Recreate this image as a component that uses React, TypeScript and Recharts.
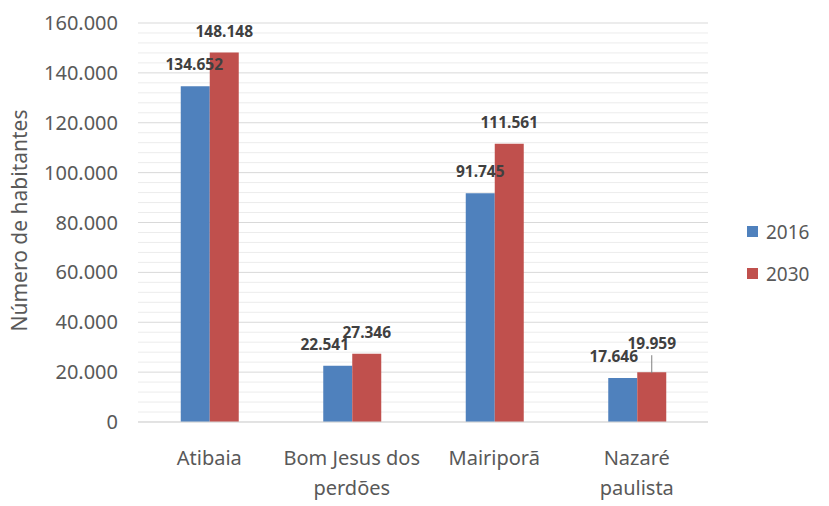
import React from "react";
import { BarChart, Bar, XAxis, YAxis, CartesianGrid, Legend } from "recharts";

const categories = ["Atibaia", "Bom Jesus dos perdões", "Mairiporã", "Nazaré paulista"];
const values2016 = [134652, 22541, 91745, 17646];
const values2030 = [148148, 27346, 111561, 19959];
const majorTicks = [0, 20000, 40000, 60000, 80000, 100000, 120000, 140000, 160000];
const minorTicks = Array.from({ length: 41 }, (_, i) => i * 4000).filter((v) => v % 20000 !== 0);

const data = categories.map((c, i) => ({ name: c, y2016: values2016[i], y2030: values2030[i] }));

const BLUE = "#4F81BD";
const RED = "#C0504D";
const FONT = "'Noto Sans', sans-serif";

const fmt = (v: number) => {
  const s = String(Math.round(v));
  return s.replace(/\B(?=(\d{3})+(?!\d))/g, ".");
};

// small label nudges (style only)
const nudge2016 = [-1, -13, 0, -9];
const nudge2030 = [0, 0, 0, 0];
const lift2030 = [0, 0, 0, 7];

const makeLabel = (nudge: number[], lift: number[] | null) => (props: any) => {
  const { x, y, width, value, index } = props;
  const cx = Number(x) + Number(width) / 2 + (nudge[index] || 0);
  const extra = lift ? lift[index] || 0 : 0;
  const by = Number(y) - 16 - extra;
  return (
    <g>
      {extra > 0 && (
        <line x1={Number(x) + Number(width) / 2} x2={Number(x) + Number(width) / 2} y1={by + 6} y2={Number(y) + 1} stroke="#7f7f7f" strokeWidth={1} />
      )}
      <text x={cx} y={by} textAnchor="middle" fontFamily={FONT} fontSize={15.5} fontWeight={700} fill="#404040">
        {fmt(value)}
      </text>
    </g>
  );
};

const CatTick = (props: any) => {
  const { x, y, payload } = props;
  const lines: string[] = [];
  if (payload.value === "Bom Jesus dos perdões") {
    lines.push("Bom Jesus dos", "perdões");
  } else if (payload.value === "Nazaré paulista") {
    lines.push("Nazaré", "paulista");
  } else {
    lines.push(String(payload.value));
  }
  return (
    <g>
      {lines.map((l, i) => (
        <text key={i} x={x} y={y + 35 + i * 30} textAnchor="middle" fontFamily={FONT} fontSize={20} fill="#595959">
          {l}
        </text>
      ))}
    </g>
  );
};

const YTitle = (props: any) => {
  const { viewBox } = props;
  const cy = viewBox.y + viewBox.height / 2 - 2;
  const cx = 19;
  return (
    <text x={cx} y={cy} transform={`rotate(-90 ${cx} ${cy})`} textAnchor="middle" dominantBaseline="central" fontFamily={FONT} fontSize={21} fill="#595959">
      Número de habitantes
    </text>
  );
};

const LegendContent = (props: any) => {
  const items = props.payload || [];
  return (
    <svg width={80} height={80} style={{ overflow: "visible" }}>
      {items.map((it: any, i: number) => (
        <g key={i}>
          <rect x={2} y={6 + i * 42} width={11} height={11} fill={it.color} />
          <text x={21} y={11.5 + i * 42} dominantBaseline="central" fontFamily={FONT} fontSize={19} fill="#595959">
            {it.value}
          </text>
        </g>
      ))}
    </svg>
  );
};

const minorGen = (props: any) => {
  const scale = props && props.yAxis && props.yAxis.scale;
  if (typeof scale === "function") return minorTicks.map((v) => scale(v));
  if (scale && typeof scale.map === "function") return minorTicks.map((v) => scale.map(v));
  return [];
};

export default function App() {
  return (
    <div style={{ position: "absolute", left: 0, top: 0, width: 829, height: 506, background: "#fff" }}>
      <BarChart
        width={829}
        height={506}
        data={data}
        margin={{ top: 23, right: 121, bottom: 24, left: 0 }}
        barCategoryGap="30%"
        barGap={0}
      >
        <CartesianGrid horizontal vertical={false} stroke="#ececec" strokeWidth={1} horizontalCoordinatesGenerator={minorGen} />
        <CartesianGrid horizontal vertical={false} stroke="#d9d9d9" strokeWidth={1} />
        <XAxis
          dataKey="name"
          interval={0}
          tickLine={false}
          axisLine={{ stroke: "#d9d9d9" }}
          height={60}
          tick={<CatTick />}
        />
        <YAxis
          domain={[0, 160000]}
          ticks={majorTicks}
          width={138}
          axisLine={false}
          tickLine={false}
          tickSize={0}
          tickMargin={20}
          tickFormatter={fmt}
          tick={{ fontFamily: FONT, fontSize: 20, fill: "#595959" }}
          label={<YTitle />}
        />
        <Legend
          layout="vertical"
          align="center"
          verticalAlign="middle"
          wrapperStyle={{ position: "absolute", left: 745, top: 220, width: 80, height: 80 }}
          content={<LegendContent />}
        />
        <Bar dataKey="y2016" name="2016" fill={BLUE} isAnimationActive={false} label={makeLabel(nudge2016, null)} />
        <Bar dataKey="y2030" name="2030" fill={RED} isAnimationActive={false} label={makeLabel(nudge2030, lift2030)} />
      </BarChart>
    </div>
  );
}
